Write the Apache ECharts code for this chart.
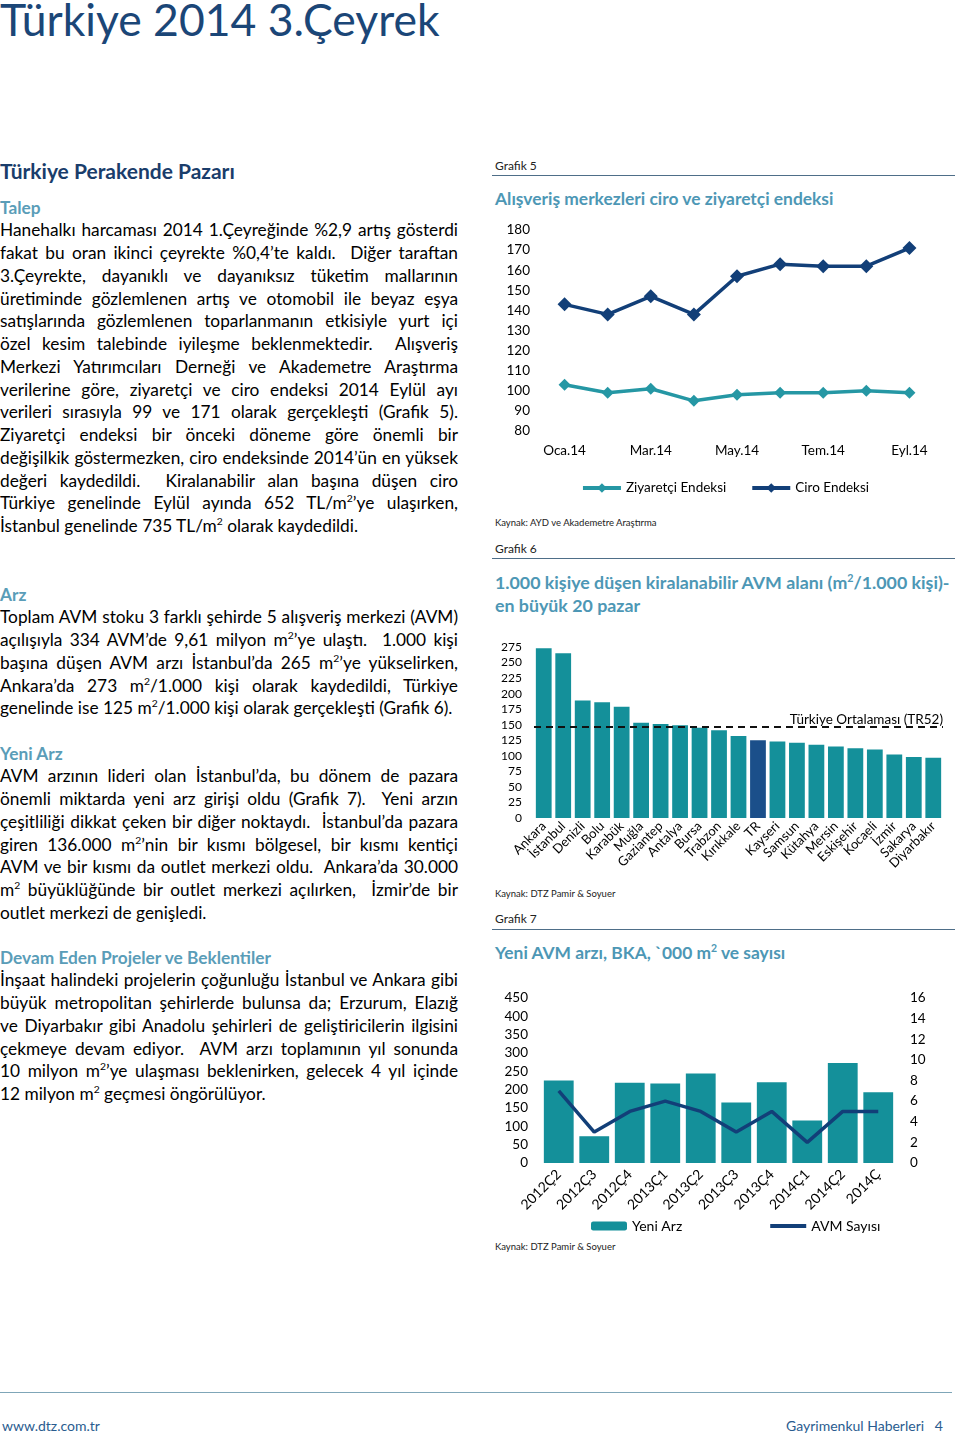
<!DOCTYPE html>
<html>
<head>
<meta charset="utf-8">
<script src="https://cdn.jsdelivr.net/npm/echarts@6/dist/echarts.min.js"></script>
<style>
  html, body { margin:0; padding:0; background:#fff; }
  #page { position:relative; width:960px; height:1440px; overflow:hidden; font-family: Lato, "Open Sans", sans-serif; color:#000; }
  .abs { position:absolute; }
  .big { left:0; top:-7px; font-size:44.5px; line-height:52px; color:#1B4677; font-weight:400; white-space:nowrap; }
  .h1 { left:0; font-size:21px; font-weight:700; color:#1A3D6B; white-space:nowrap; }
  .block { left:0; width:458px; font-size:17.3px; line-height:22.75px; }
  .block .hd { font-weight:700; color:#5A9DB8; }
  .block .ln { text-align:justify; text-align-last:justify; white-space:nowrap; }
  .block .ln.last { text-align-last:left; }
  sup { font-size:0.6em; line-height:0; vertical-align:super; }
  .gl { left:495px; font-size:12px; white-space:nowrap; color:#222; }
  .rule { left:492px; width:463px; height:0; border-top:1.5px solid #4E6E88; }
  .ct { left:495px; font-size:17.4px; font-weight:700; color:#4D97B5; line-height:23px; white-space:nowrap; }
  .ct6 { font-size:17.8px; }
  .src { left:495px; font-size:9.5px; color:#222; white-space:nowrap; }
  .chart { position:absolute; }
</style>
</head>
<body>
<div id="page">
  <div class="abs big">Türkiye 2014 3.Çeyrek</div>

  <div class="abs h1" style="top:158px;">Türkiye Perakende Pazarı</div>

  <div class="abs block" style="top:196.6px;">
    <div class="hd">Talep</div>
    <div class="ln">Hanehalkı harcaması 2014 1.Çeyreğinde %2,9 artış gösterdi</div>
    <div class="ln">fakat bu oran ikinci çeyrekte %0,4’te kaldı. &nbsp;Diğer taraftan</div>
    <div class="ln">3.Çeyrekte, dayanıklı ve dayanıksız tüketim mallarının</div>
    <div class="ln">üretiminde gözlemlenen artış ve otomobil ile beyaz eşya</div>
    <div class="ln">satışlarında gözlemlenen toparlanmanın etkisiyle yurt içi</div>
    <div class="ln">özel kesim talebinde iyileşme beklenmektedir. &nbsp;Alışveriş</div>
    <div class="ln">Merkezi Yatırımcıları Derneği ve Akademetre Araştırma</div>
    <div class="ln">verilerine göre, ziyaretçi ve ciro endeksi 2014 Eylül ayı</div>
    <div class="ln">verileri sırasıyla 99 ve 171 olarak gerçekleşti (Grafik 5).</div>
    <div class="ln">Ziyaretçi endeksi bir önceki döneme göre önemli bir</div>
    <div class="ln">değişilkik göstermezken, ciro endeksinde 2014’ün en yüksek</div>
    <div class="ln">değeri kaydedildi. &nbsp;Kiralanabilir alan başına düşen ciro</div>
    <div class="ln">Türkiye genelinde Eylül ayında 652 TL/m<sup>2</sup>’ye ulaşırken,</div>
    <div class="ln last">İstanbul genelinde 735 TL/m<sup>2</sup> olarak kaydedildi.</div>
  </div>

  <div class="abs block" style="top:583.6px;">
    <div class="hd">Arz</div>
    <div class="ln">Toplam AVM stoku 3 farklı şehirde 5 alışveriş merkezi (AVM)</div>
    <div class="ln">açılışıyla 334 AVM’de 9,61 milyon m<sup>2</sup>’ye ulaştı. &nbsp;1.000 kişi</div>
    <div class="ln">başına düşen AVM arzı İstanbul’da 265 m<sup>2</sup>’ye yükselirken,</div>
    <div class="ln">Ankara’da 273 m<sup>2</sup>/1.000 kişi olarak kaydedildi, Türkiye</div>
    <div class="ln last">genelinde ise 125 m<sup>2</sup>/1.000 kişi olarak gerçekleşti (Grafik 6).</div>
  </div>

  <div class="abs block" style="top:742.6px;">
    <div class="hd">Yeni Arz</div>
    <div class="ln">AVM arzının lideri olan İstanbul’da, bu dönem de pazara</div>
    <div class="ln">önemli miktarda yeni arz girişi oldu (Grafik 7). &nbsp;Yeni arzın</div>
    <div class="ln">çeşitliliği dikkat çeken bir diğer noktaydı. &nbsp;İstanbul’da pazara</div>
    <div class="ln">giren 136.000 m<sup>2</sup>’nin bir kısmı bölgesel, bir kısmı kentiçi</div>
    <div class="ln">AVM ve bir kısmı da outlet merkezi oldu. &nbsp;Ankara’da 30.000</div>
    <div class="ln">m<sup>2</sup> büyüklüğünde bir outlet merkezi açılırken, &nbsp;İzmir’de bir</div>
    <div class="ln last">outlet merkezi de genişledi.</div>
  </div>

  <div class="abs block" style="top:946.6px;">
    <div class="hd">Devam Eden Projeler ve Beklentiler</div>
    <div class="ln">İnşaat halindeki projelerin çoğunluğu İstanbul ve Ankara gibi</div>
    <div class="ln">büyük metropolitan şehirlerde bulunsa da; Erzurum, Elazığ</div>
    <div class="ln">ve Diyarbakır gibi Anadolu şehirleri de geliştiricilerin ilgisini</div>
    <div class="ln">çekmeye devam ediyor. &nbsp;AVM arzı toplamının yıl sonunda</div>
    <div class="ln">10 milyon m<sup>2</sup>’ye ulaşması beklenirken, gelecek 4 yıl içinde</div>
    <div class="ln last">12 milyon m<sup>2</sup> geçmesi öngörülüyor.</div>
  </div>

  <!-- Right column -->
  <div class="abs gl" style="top:158px;">Grafik 5</div>
  <div class="abs rule" style="top:175px;"></div>
  <div class="abs ct" style="top:187px;">Alışveriş merkezleri ciro ve ziyaretçi endeksi</div>
  <div id="c5" class="chart" style="left:490px; top:210px; width:470px; height:300px;"></div>
  <div class="abs src" style="top:517px;">Kaynak: AYD ve Akademetre Araştırma</div>

  <div class="abs gl" style="top:541px;">Grafik 6</div>
  <div class="abs rule" style="top:558px;"></div>
  <div class="abs ct ct6" style="top:571px;">1.000 kişiye düşen kiralanabilir AVM alanı (m<sup>2</sup>/1.000 kişi)-<br>en büyük 20 pazar</div>
  <div id="c6" class="chart" style="left:490px; top:620px; width:470px; height:265px;"></div>
  <div class="abs src" style="top:888px;">Kaynak: DTZ Pamir &amp; Soyuer</div>

  <div class="abs gl" style="top:911px;">Grafik 7</div>
  <div class="abs rule" style="top:929px;"></div>
  <div class="abs ct" style="top:941px;">Yeni AVM arzı, BKA, `000 m<sup>2</sup> ve sayısı</div>
  <div id="c7" class="chart" style="left:490px; top:975px; width:470px; height:262px;"></div>
  <div class="abs src" style="top:1241px;">Kaynak: DTZ Pamir &amp; Soyuer</div>

  <!-- Footer -->
  <div class="abs" style="left:0; top:1392px; width:952px; height:0; border-top:1px solid #7FA6B8;"></div>
  <div class="abs" style="left:2px; top:1417px; font-size:14px; color:#2A5C8F;">www.dtz.com.tr</div>
  <div class="abs" style="right:17px; top:1417px; font-size:14px; color:#2A5C8F; white-space:pre;">Gayrimenkul Haberleri   4</div>
</div>

<script>
// ---- Grafik 5 data ----
const months5 = ['Oca.14','Şub.14','Mar.14','Nis.14','May.14','Haz.14','Tem.14','Ağu.14','Eyl.14'];
const ziyaretciEndeksi = [103, 99, 101, 95, 98, 99, 99, 100, 99];
const ciroEndeksi = [143, 138, 147, 138, 157, 163, 162, 162, 171];

// ---- Grafik 6 data ----
const cities6 = ['Ankara','İstanbul','Denizli','Bolu','Karabük','Muğla','Gaziantep','Antalya','Bursa','Trabzon','Kırıkkale','TR','Kayseri','Samsun','Kütahya','Mersin','Eskişehir','Kocaeli','İzmir','Sakarya','Diyarbakır'];
const avmAlani6 = [273, 265, 189, 186, 179, 153, 151, 149, 145, 141, 132, 125, 123, 121, 118, 115, 112, 110, 102, 98, 97];
const turkiyeOrtalamasi = 146;

// ---- Grafik 7 data ----
const quarters7 = ['2012Ç2','2012Ç3','2012Ç4','2013Ç1','2013Ç2','2013Ç3','2013Ç4','2014Ç1','2014Ç2','2014Ç'];
const yeniArz7 = [225, 73, 219, 217, 244, 165, 220, 116, 273, 193];
const avmSayisi7 = [7, 3, 5, 6, 5, 3, 5, 2, 5, 5];

const FONT = 'Lato, "Open Sans", sans-serif';
const TEAL = '#14909A';
const NAVY = '#123F78';

// Chart 5
const c5 = echarts.init(document.getElementById('c5'), null, {renderer:'canvas'});
c5.setOption({
  animation:false,
  textStyle:{fontFamily:FONT},
  grid:{left:53, top:20, width:388, height:201},
  legend:{
    top:266, left:'center', itemGap:24, itemWidth:38, itemHeight:12,
    lineStyle:{width:4},
    textStyle:{fontSize:13.5, color:'#000', fontFamily:FONT},
    data:['Ziyaretçi Endeksi','Ciro Endeksi']
  },
  xAxis:{
    type:'category', data:months5, boundaryGap:true,
    axisLine:{show:false}, axisTick:{show:false},
    axisLabel:{interval:1, fontSize:13.5, color:'#000', margin:13, fontFamily:FONT}
  },
  yAxis:{
    type:'value', min:80, max:180, interval:10,
    splitLine:{show:false}, axisLine:{show:false}, axisTick:{show:false},
    axisLabel:{fontSize:13.5, color:'#000', margin:13, fontFamily:FONT}
  },
  series:[
    {name:'Ziyaretçi Endeksi', type:'line', data:ziyaretciEndeksi, symbol:'diamond', symbolSize:12,
     lineStyle:{width:3.5, color:'#2597A4'}, itemStyle:{color:'#2597A4'}},
    {name:'Ciro Endeksi', type:'line', data:ciroEndeksi, symbol:'diamond', symbolSize:14,
     lineStyle:{width:3.5, color:NAVY}, itemStyle:{color:NAVY}}
  ]
});

// Chart 6
const c6 = echarts.init(document.getElementById('c6'), null, {renderer:'canvas'});
c6.setOption({
  animation:false,
  textStyle:{fontFamily:FONT},
  grid:{left:44, top:27, width:409, height:171},
  xAxis:{
    type:'category', data:cities6,
    axisLine:{show:false}, axisTick:{show:false},
    axisLabel:{interval:0, rotate:45, fontSize:13, color:'#000', margin:6, fontFamily:FONT}
  },
  yAxis:{
    type:'value', min:0, max:275, interval:25,
    splitLine:{show:false}, axisLine:{show:false}, axisTick:{show:false},
    axisLabel:{fontSize:12, color:'#000', margin:12, fontFamily:FONT}
  },
  series:[{
    type:'bar', barCategoryGap:'19%',
    data: avmAlani6.map((v,i)=>({value:v, itemStyle:{color: cities6[i]==='TR' ? '#1B4F8A' : TEAL}})),
    markLine:{
      silent:true, symbol:'none',
      lineStyle:{type:[7,5], color:'#111', width:2},
      label:{show:true, position:'insideEndTop', formatter:'Türkiye Ortalaması (TR52)', color:'#000', fontSize:13.5, fontFamily:FONT, distance:[0,1]},
      data:[{yAxis:turkiyeOrtalamasi}]
    }
  }]
});

// Chart 7
const c7 = echarts.init(document.getElementById('c7'), null, {renderer:'canvas'});
c7.setOption({
  animation:false,
  textStyle:{fontFamily:FONT},
  grid:{left:51, top:23, width:355, height:165},
  legend:{
    top:239, left:96, itemGap:86, itemWidth:36, itemHeight:9,
    textStyle:{fontSize:14, color:'#000', fontFamily:FONT},
    data:['Yeni Arz', {name:'AVM Sayısı', itemStyle:{color:'rgba(0,0,0,0)', borderWidth:0}, lineStyle:{width:4, color:NAVY}}]
  },
  xAxis:{
    type:'category', data:quarters7,
    axisLine:{show:false}, axisTick:{show:false},
    axisLabel:{interval:0, rotate:45, fontSize:14, color:'#000', margin:9, fontFamily:FONT}
  },
  yAxis:[
    {type:'value', min:0, max:450, interval:50,
     splitLine:{show:false}, axisLine:{show:false}, axisTick:{show:false},
     axisLabel:{fontSize:13.5, color:'#000', margin:13, fontFamily:FONT}},
    {type:'value', min:0, max:16, interval:2, position:'right',
     splitLine:{show:false}, axisLine:{show:false}, axisTick:{show:false},
     axisLabel:{fontSize:13.5, color:'#000', margin:14, fontFamily:FONT}}
  ],
  series:[
    {name:'Yeni Arz', type:'bar', data:yeniArz7, barCategoryGap:'16%', itemStyle:{color:TEAL}},
    {name:'AVM Sayısı', type:'line', yAxisIndex:1, data:avmSayisi7, symbol:'none',
     lineStyle:{width:3.5, color:NAVY}, itemStyle:{color:NAVY}}
  ]
});
</script>
</body>
</html>
